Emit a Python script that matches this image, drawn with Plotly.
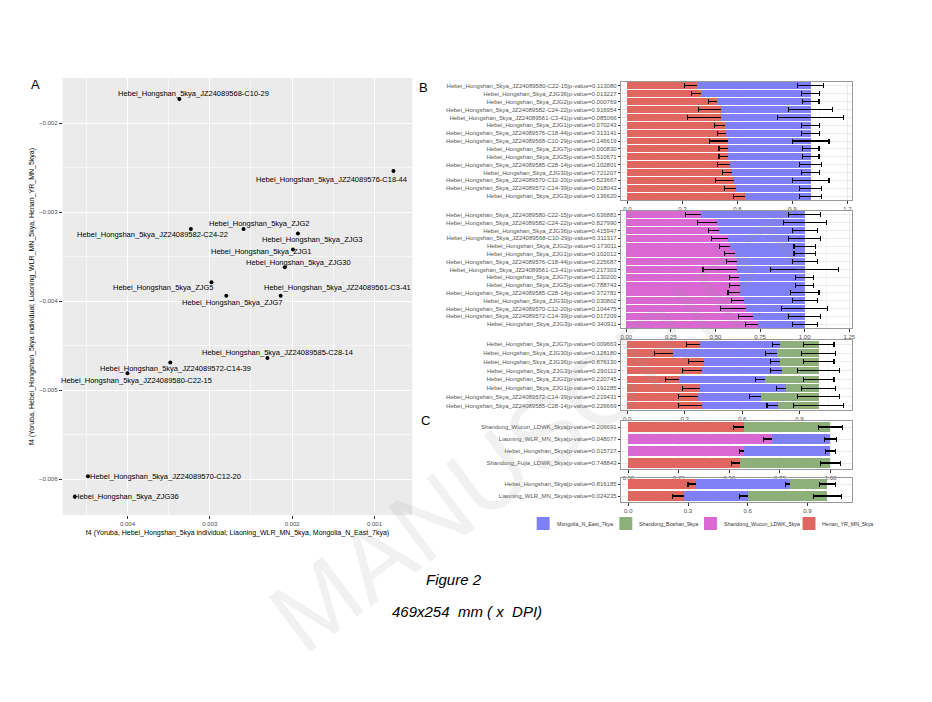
import plotly.graph_objects as go

W, H = 932, 702
FONT = "Liberation Sans, Arial, sans-serif"

# ---------------- Panel A data ----------------
a_labels = [
    "Hebei_Hongshan_5kya_JZ24089568-C10-29",
    "Hebei_Hongshan_5kya_JZ24089576-C18-44",
    "Hebei_Hongshan_5kya_ZJG2",
    "Hebei_Hongshan_5kya_JZ24089582-C24-22",
    "Hebei_Hongshan_5kya_ZJG3",
    "Hebei_Hongshan_5kya_ZJG1",
    "Hebei_Hongshan_5kya_ZJG30",
    "Hebei_Hongshan_5kya_ZJG5",
    "Hebei_Hongshan_5kya_JZ24089561-C3-41",
    "Hebei_Hongshan_5kya_ZJG7",
    "Hebei_Hongshan_5kya_JZ24089585-C28-14",
    "Hebei_Hongshan_5kya_JZ24089572-C14-39",
    "Hebei_Hongshan_5kya_JZ24089580-C22-15",
    "Hebei_Hongshan_5kya_JZ24089570-C12-20",
    "Hebei_Hongshan_5kya_ZJG36",
]
a_x = [0.00337, 0.00077, 0.00259, 0.00323, 0.00193, 0.00199, 0.00209, 0.00298,
       0.00214, 0.00280, 0.00230, 0.00348, 0.00400, 0.00448, 0.00464]
a_y = [-0.00173, -0.00254, -0.00319, -0.00319, -0.00324, -0.00342, -0.00362, -0.00379,
       -0.00394, -0.00394, -0.00464, -0.00469, -0.00481, -0.00597, -0.00620]
a_xticks = [0.004, 0.003, 0.002, 0.001]
a_xticktext = ["0.004", "0.003", "0.002", "0.001"]
a_yticks = [-0.002, -0.003, -0.004, -0.005, -0.006]
a_xtitle = "f4 (Yoruba, Hebei_Hongshan_5kya individual; Liaoning_WLR_MN_5kya, Mongolia_N_East_7kya)"
a_ytitle = "f4 (Yoruba, Hebei_Hongshan_5kya individual; Liaoning_WLR_MN_5kya, Henan_YR_MN_5kya)"

# ---------------- Sources / legend ----------------
src_names = ["Mongolia_N_East_7kya", "Shandong_Boshan_9kya", "Shandong_Wucun_LDWK_5kya", "Henan_YR_MN_5kya"]
src_colors = ["#7F7FF6", "#8DB07A", "#D968D3", "#E0675F"]
COL = dict(zip(src_names, src_colors))

# ---------------- Panel B (top): Henan + Mongolia ----------------
b1_labels = [
    "Hebei_Hongshan_5kya_JZ24089580-C22-15|p-value=0.113080",
    "Hebei_Hongshan_5kya_ZJG36|p-value=0.013227",
    "Hebei_Hongshan_5kya_ZJG2|p-value=0.000769",
    "Hebei_Hongshan_5kya_JZ24089582-C24-22|p-value=0.916954",
    "Hebei_Hongshan_5kya_JZ24089561-C3-41|p-value=0.085066",
    "Hebei_Hongshan_5kya_ZJG1|p-value=0.070243",
    "Hebei_Hongshan_5kya_JZ24089576-C18-44|p-value=0.313141",
    "Hebei_Hongshan_5kya_JZ24089568-C10-29|p-value=0.146619",
    "Hebei_Hongshan_5kya_ZJG7|p-value=0.000830",
    "Hebei_Hongshan_5kya_ZJG5|p-value=0.510671",
    "Hebei_Hongshan_5kya_JZ24089585-C28-14|p-value=0.102801",
    "Hebei_Hongshan_5kya_ZJG30|p-value=0.721207",
    "Hebei_Hongshan_5kya_JZ24089570-C12-20|p-value=0.523667",
    "Hebei_Hongshan_5kya_JZ24089572-C14-39|p-value=0.018043",
    "Hebei_Hongshan_5kya_ZJG3|p-value=0.136620",
]
b1_henan = [0.38, 0.40, 0.49, 0.51, 0.51, 0.53, 0.54, 0.55, 0.55, 0.55, 0.56, 0.57, 0.58, 0.59, 0.64]
b1_henan_se = [0.07, 0.05, 0.045, 0.12, 0.18, 0.055, 0.05, 0.10, 0.05, 0.05, 0.07, 0.05, 0.10, 0.06, 0.06]
b1_mong = [0.62, 0.60, 0.51, 0.49, 0.49, 0.47, 0.46, 0.45, 0.45, 0.45, 0.44, 0.43, 0.42, 0.41, 0.36]
b1_mong_se = [0.07, 0.05, 0.045, 0.12, 0.18, 0.05, 0.05, 0.10, 0.045, 0.045, 0.06, 0.05, 0.10, 0.06, 0.06]

# ---------------- Panel B (middle): Wucun + Mongolia ----------------
b2_labels = [
    "Hebei_Hongshan_5kya_JZ24089580-C22-15|p-value=0.636881",
    "Hebei_Hongshan_5kya_JZ24089582-C24-22|p-value=0.827990",
    "Hebei_Hongshan_5kya_ZJG36|p-value=0.415947",
    "Hebei_Hongshan_5kya_JZ24089568-C10-29|p-value=0.311317",
    "Hebei_Hongshan_5kya_ZJG2|p-value=0.173011",
    "Hebei_Hongshan_5kya_ZJG1|p-value=0.102012",
    "Hebei_Hongshan_5kya_JZ24089576-C18-44|p-value=0.225687",
    "Hebei_Hongshan_5kya_JZ24089561-C3-41|p-value=0.217303",
    "Hebei_Hongshan_5kya_ZJG7|p-value=0.130200",
    "Hebei_Hongshan_5kya_ZJG5|p-value=0.788743",
    "Hebei_Hongshan_5kya_JZ24089585-C28-14|p-value=0.372781",
    "Hebei_Hongshan_5kya_ZJG30|p-value=0.030802",
    "Hebei_Hongshan_5kya_JZ24089570-C12-20|p-value=0.104475",
    "Hebei_Hongshan_5kya_JZ24089572-C14-39|p-value=0.017209",
    "Hebei_Hongshan_5kya_ZJG3|p-value=0.340911",
]
b2_wucun = [0.42, 0.51, 0.52, 0.57, 0.58, 0.61, 0.62, 0.62, 0.63, 0.64, 0.64, 0.66, 0.67, 0.71, 0.74]
b2_wucun_se = [0.09, 0.11, 0.06, 0.09, 0.06, 0.06, 0.06, 0.19, 0.05, 0.06, 0.07, 0.07, 0.14, 0.08, 0.07]
b2_mong = [0.58, 0.49, 0.48, 0.43, 0.42, 0.39, 0.38, 0.38, 0.37, 0.36, 0.36, 0.34, 0.33, 0.29, 0.26]
b2_mong_se = [0.09, 0.12, 0.07, 0.09, 0.06, 0.06, 0.07, 0.19, 0.05, 0.05, 0.08, 0.07, 0.13, 0.09, 0.07]

# ---------------- Panel B (bottom): Henan + Mongolia + Boshan ----------------
b3_labels = [
    "Hebei_Hongshan_5kya_ZJG7|p-value=0.009663",
    "Hebei_Hongshan_5kya_ZJG30|p-value=0.128180",
    "Hebei_Hongshan_5kya_ZJG36|p-value=0.876130",
    "Hebei_Hongshan_5kya_ZJG3|p-value=0.290112",
    "Hebei_Hongshan_5kya_ZJG2|p-value=0.220745",
    "Hebei_Hongshan_5kya_ZJG1|p-value=0.192285",
    "Hebei_Hongshan_5kya_JZ24089572-C14-39|p-value=0.219431",
    "Hebei_Hongshan_5kya_JZ24089585-C28-14|p-value=0.226669",
]
b3_henan = [0.38, 0.24, 0.40, 0.39, 0.27, 0.38, 0.37, 0.39]
b3_henan_se = [0.07, 0.10, 0.08, 0.10, 0.07, 0.09, 0.10, 0.12]
b3_mong = [0.42, 0.54, 0.40, 0.42, 0.45, 0.45, 0.33, 0.40]
b3_mong_se = [0.04, 0.06, 0.05, 0.06, 0.05, 0.05, 0.06, 0.06]
b3_boshan = [0.20, 0.22, 0.20, 0.19, 0.28, 0.17, 0.30, 0.21]
b3_boshan_se = [0.08, 0.09, 0.08, 0.11, 0.08, 0.09, 0.11, 0.13]

# ---------------- Panel C (top): two-way models ----------------
c1_labels = [
    "Shandong_Wucun_LDWK_5kya|p-value=0.206691",
    "Liaoning_WLR_MN_5kya|p-value=0.048077",
    "Hebei_Hongshan_5kya|p-value=0.015727",
    "Shandong_Fujia_LDWK_5kya|p-value=0.748843",
]
c1_src1 = ["Henan_YR_MN_5kya", "Shandong_Wucun_LDWK_5kya", "Shandong_Wucun_LDWK_5kya", "Henan_YR_MN_5kya"]
c1_val1 = [0.57, 0.71, 0.57, 0.55]
c1_se1 = [0.05, 0.04, 0.02, 0.04]
c1_src2 = ["Shandong_Boshan_9kya", "Mongolia_N_East_7kya", "Mongolia_N_East_7kya", "Shandong_Boshan_9kya"]
c1_val2 = [0.43, 0.29, 0.43, 0.45]
c1_se2 = [0.06, 0.03, 0.025, 0.05]

# ---------------- Panel C (bottom): three-way models ----------------
c2_labels = [
    "Hebei_Hongshan_5kya|p-value=0.816185",
    "Liaoning_WLR_MN_5kya|p-value=0.024235",
]
c2_henan = [0.34, 0.28]
c2_henan_se = [0.04, 0.06]
c2_mong = [0.47, 0.32]
c2_mong_se = [0.02, 0.04]
c2_boshan = [0.19, 0.40]
c2_boshan_se = [0.04, 0.07]


def fx(px):
    return px / W


def fy(py):
    return 1 - py / H


fig = go.Figure()

# ---------- Panel A ----------
fig.add_trace(go.Scatter(x=a_x, y=a_y, mode="markers",
                         marker=dict(color="black", size=4),
                         xaxis="x", yaxis="y", hoverinfo="skip"))
a_dx = [14, -61.5, 15, -38.5, 14.5, -31.5, 14, -48.5, 57, 6, 10, 5.5, 9, 77.5, 51.5]
a_dy = [6, -8, 5, -6, -6, -2, 5, -5, 8, -7, 6, -6, -7, 0, 0]
annotations = []
for lab, xv, yv, dx, dy in zip(a_labels, a_x, a_y, a_dx, a_dy):
    annotations.append(dict(x=xv, y=yv, xref="x", yref="y", text=lab, showarrow=False,
                            xshift=dx, yshift=dy, font=dict(family=FONT, size=7.5, color="black")))

layout = dict(
    width=W, height=H, margin=dict(l=0, r=0, t=0, b=0), autosize=False,
    paper_bgcolor="white", plot_bgcolor="white", showlegend=False,
    barmode="stack", bargap=0.12,
    font=dict(family=FONT),
)
layout["xaxis"] = dict(
    domain=[fx(62), fx(413)], anchor="y", range=[0.004786, 0.000542],
    tickmode="array", tickvals=a_xticks, ticktext=a_xticktext,
    showgrid=True, gridcolor="white", gridwidth=1.1,
    minor=dict(tickvals=[0.0045, 0.0035, 0.0025, 0.0015, 0.0005], showgrid=True, gridcolor="#F7F7F7", gridwidth=0.5),
    ticks="outside", ticklen=3, tickcolor="#333333", tickwidth=0.8,
    tickfont=dict(size=6, color="#4D4D4D"), zeroline=False, showline=False,
    title=dict(text=a_xtitle, font=dict(size=7, color="black"), standoff=3),
)
layout["yaxis"] = dict(
    domain=[fy(515), fy(78)], anchor="x", range=[-0.006404, -0.001494],
    tickmode="array", tickvals=a_yticks, tickformat=".3f",
    showgrid=True, gridcolor="white", gridwidth=1.1,
    minor=dict(tickvals=[-0.0025, -0.0035, -0.0045, -0.0055], showgrid=True, gridcolor="#F7F7F7", gridwidth=0.5),
    ticks="outside", ticklen=3, tickcolor="#333333", tickwidth=0.8,
    tickfont=dict(size=6, color="#4D4D4D"), zeroline=False, showline=False,
    title=dict(text=a_ytitle, font=dict(size=7, color="black"), standoff=3),
)

shapes = [dict(type="rect", xref="x domain", yref="y domain", x0=0, x1=1, y0=0, y1=1,
               fillcolor="#EBEBEB", line=dict(width=0), layer="below")]


def bar_axes(n, top, bottom, xrange, xticks, xticktext, minor_ticks, labels):
    layout["xaxis%d" % n] = dict(
        domain=[fx(623), fx(855)], anchor="y%d" % n, range=xrange,
        tickmode="array", tickvals=xticks, ticktext=xticktext,
        showgrid=True, gridcolor="#EBEBEB", gridwidth=1,
        minor=dict(tickvals=minor_ticks, showgrid=True, gridcolor="#F4F4F4", gridwidth=0.5),
        ticks="outside", ticklen=2.5, tickcolor="#333333", tickwidth=0.8,
        tickfont=dict(size=6, color="#4D4D4D"), zeroline=False,
        showline=True, mirror=True, linecolor="#9A9A9A", linewidth=1,
    )
    layout["yaxis%d" % n] = dict(
        domain=[fy(bottom), fy(top)], anchor="x%d" % n, type="category",
        categoryorder="array", categoryarray=labels,
        range=[len(labels) - 0.5, -0.5],
        tickmode="array", tickvals=labels, ticktext=labels,
        showgrid=True, gridcolor="#EBEBEB",
        ticks="outside", ticklen=2.5, tickcolor="#333333", tickwidth=0.8,
        tickfont=dict(size=6, color="#555555"), zeroline=False,
        showline=True, mirror=True, linecolor="#9A9A9A", linewidth=1,
    )


def add_bar(n, labels, vals, errs, colors):
    fig.add_trace(go.Bar(
        y=labels, x=vals, orientation="h", xaxis="x%d" % n, yaxis="y%d" % n,
        marker=dict(color=colors, line=dict(width=0)),
        error_x=dict(type="data", array=errs, color="black", thickness=1.1, width=2.5),
        hoverinfo="skip",
    ))


# B top
bar_axes(2, 82, 200, [-0.0326, 1.227], [0, 0.3, 0.6, 0.9, 1.2],
         ["0.0", "0.3", "0.6", "0.9", "1.2"], [0.15, 0.45, 0.75, 1.05], b1_labels)
add_bar(2, b1_labels, b1_henan, b1_henan_se, COL["Henan_YR_MN_5kya"])
add_bar(2, b1_labels, b1_mong, b1_mong_se, COL["Mongolia_N_East_7kya"])

# B middle
bar_axes(3, 211, 328, [-0.0279, 1.267], [0, 0.25, 0.5, 0.75, 1.0, 1.25],
         ["0.00", "0.25", "0.50", "0.75", "1.00", "1.25"], [0.125, 0.375, 0.625, 0.875, 1.125], b2_labels)
add_bar(3, b2_labels, b2_wucun, b2_wucun_se, COL["Shandong_Wucun_LDWK_5kya"])
add_bar(3, b2_labels, b2_mong, b2_mong_se, COL["Mongolia_N_East_7kya"])

# B bottom
bar_axes(4, 340, 410, [-0.031, 1.176], [0, 0.3, 0.6, 0.9],
         ["0.0", "0.3", "0.6", "0.9"], [0.15, 0.45, 0.75, 1.05], b3_labels)
add_bar(4, b3_labels, b3_henan, b3_henan_se, COL["Henan_YR_MN_5kya"])
add_bar(4, b3_labels, b3_mong, b3_mong_se, COL["Mongolia_N_East_7kya"])
add_bar(4, b3_labels, b3_boshan, b3_boshan_se, COL["Shandong_Boshan_9kya"])

# C top
bar_axes(5, 421, 469, [-0.0345, 1.108], [0, 0.25, 0.5, 0.75, 1.0],
         ["0.00", "0.25", "0.50", "0.75", "1.00"], [0.125, 0.375, 0.625, 0.875], c1_labels)
add_bar(5, c1_labels, c1_val1, c1_se1, [COL[s] for s in c1_src1])
add_bar(5, c1_labels, c1_val2, c1_se2, [COL[s] for s in c1_src2])

# C bottom
bar_axes(6, 478, 502, [-0.035, 1.125], [0, 0.3, 0.6, 0.9],
         ["0.0", "0.3", "0.6", "0.9"], [0.15, 0.45, 0.75, 1.05], c2_labels)
add_bar(6, c2_labels, c2_henan, c2_henan_se, COL["Henan_YR_MN_5kya"])
add_bar(6, c2_labels, c2_mong, c2_mong_se, COL["Mongolia_N_East_7kya"])
add_bar(6, c2_labels, c2_boshan, c2_boshan_se, COL["Shandong_Boshan_9kya"])

# ---------- Legend (manual, from source lists) ----------
leg_x = [538, 621, 706, 805]
for name, colr, lx in zip(src_names, src_colors, leg_x):
    shapes.append(dict(type="rect", xref="paper", yref="paper",
                       x0=fx(lx), x1=fx(lx + 13), y0=fy(530), y1=fy(517),
                       fillcolor=colr, line=dict(width=0)))
    annotations.append(dict(x=fx(lx + 18), y=fy(523.5), xref="paper", yref="paper",
                            text=name, showarrow=False, xanchor="left", yanchor="middle",
                            font=dict(family=FONT, size=5.3, color="#333333")))

# ---------- Panel letters ----------
for letter, lx, ly in [("A", 35, 85), ("B", 424, 87), ("C", 426, 420)]:
    annotations.append(dict(x=fx(lx), y=fy(ly), xref="paper", yref="paper", text=letter,
                            showarrow=False, xanchor="center", yanchor="middle",
                            font=dict(family=FONT, size=13, color="black")))

# ---------- Caption ----------
annotations.append(dict(x=fx(455), y=fy(590), xref="paper", yref="paper", text="Figure 2",
                        showarrow=False, font=dict(family=FONT, size=15, color="black", style="italic")))
annotations.append(dict(x=fx(468), y=fy(622), xref="paper", yref="paper",
                        text="469x254  mm ( x  DPI)",
                        showarrow=False, font=dict(family=FONT, size=15, color="black", style="italic")))

# ---------- Watermark ----------
annotations.append(dict(x=fx(548), y=fy(430), xref="paper", yref="paper", text="MANUSCRIPT",
                        showarrow=False, textangle=-37,
                        font=dict(family=FONT, size=100, color="rgba(150,150,150,0.13)")))

layout["shapes"] = shapes
layout["annotations"] = annotations
fig.update_layout(**layout)

fig.write_html("out.html", config={"displayModeBar": False})
